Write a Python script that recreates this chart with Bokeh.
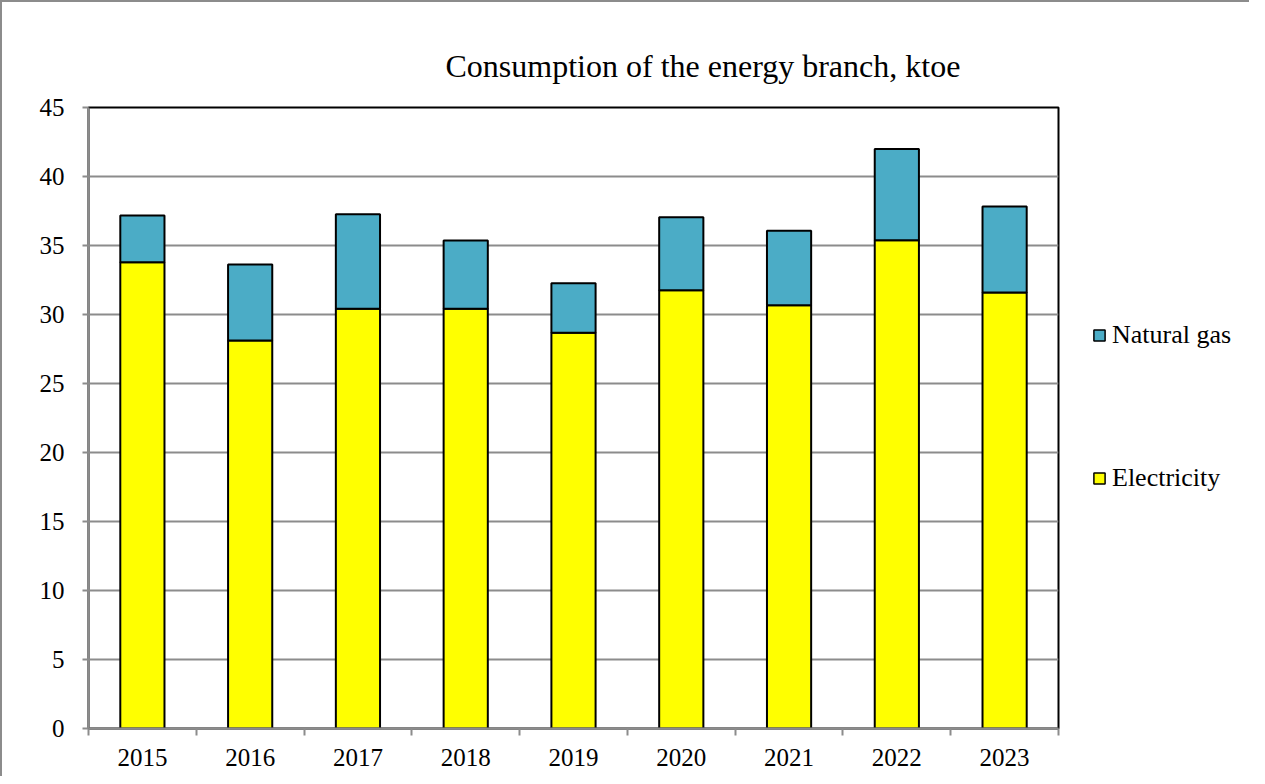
import numpy as np
from bokeh.plotting import figure
from bokeh.layouts import row
from bokeh.models import FixedTicker, Legend, LegendItem, Title, Range1d, ColumnDataSource
from bokeh.embed import file_html
from bokeh.resources import INLINE

years = ["2015", "2016", "2017", "2018", "2019", "2020", "2021", "2022", "2023"]
electricity = [33.79, 28.12, 30.41, 30.41, 28.67, 31.76, 30.67, 35.38, 31.59]
natural_gas = [3.38, 5.50, 6.85, 4.95, 3.60, 5.29, 5.39, 6.62, 6.23]
y_ticks = [0, 5, 10, 15, 20, 25, 30, 35, 40, 45]
series_names = ["Natural gas", "Electricity"]
series_colors = {"Natural gas": "#4bacc6", "Electricity": "#ffff00"}

xpos = [i + 0.5 for i in range(len(years))]
totals = [e + g for e, g in zip(electricity, natural_gas)]
src = ColumnDataSource(dict(x=xpos, elec=electricity, gas_top=totals))

FONT = "Liberation Serif"
H = 774

p = figure(width=1060, height=H, output_backend="svg", toolbar_location=None,
           x_range=Range1d(0, len(years)), y_range=Range1d(0, 45),
           min_border_left=86, min_border_right=4, min_border_top=105, min_border_bottom=48,
           tools="")

p.title = Title(text="Consumption of the energy branch,  ktoe", text_font=FONT,
                text_font_size="32px", text_font_style="normal", text_color="black",
                align="left", offset=357, standoff=48)

r_e = p.vbar(x="x", top="elec", bottom=0, width=0.41, source=src,
             fill_color=series_colors["Electricity"], line_color="black", line_width=2)
r_g = p.vbar(x="x", top="gas_top", bottom="elec", width=0.41, source=src,
             fill_color=series_colors["Natural gas"], line_color="black", line_width=2)

# axes
p.xaxis.ticker = FixedTicker(ticks=xpos, minor_ticks=list(range(len(years) + 1)))
p.xaxis.major_label_overrides = {x: y for x, y in zip(xpos, years)}
p.xaxis.major_tick_out = 0
p.xaxis.major_tick_in = 0
p.xaxis.minor_tick_out = 7
p.xaxis.minor_tick_in = 0
p.xaxis.minor_tick_line_color = "#8c8c8c"
p.xaxis.minor_tick_line_width = 2
p.xaxis.major_label_standoff = 13

p.yaxis.ticker = FixedTicker(ticks=y_ticks)
p.yaxis.major_tick_out = 6
p.yaxis.major_tick_in = 0
p.yaxis.minor_tick_out = 0
p.yaxis.minor_tick_in = 0
p.yaxis.major_tick_line_color = "#8c8c8c"
p.yaxis.major_tick_line_width = 2
p.yaxis.major_label_standoff = 18

for ax in (p.xaxis, p.yaxis):
    ax.axis_line_color = "#8c8c8c"
    ax.axis_line_width = 2
    ax.major_label_text_font = FONT
    ax.major_label_text_font_size = "25px"
    ax.major_label_text_color = "black"

p.xgrid.grid_line_color = None
p.ygrid.ticker = FixedTicker(ticks=y_ticks)
p.ygrid.grid_line_color = "#8c8c8c"
p.ygrid.grid_line_width = 2

p.outline_line_color = "black"
p.outline_line_width = 2
p.background_fill_color = "white"
p.border_fill_color = "white"

# legend panel (separate figure to the right of the plot area)
lf = figure(width=187, height=H, output_backend="svg", toolbar_location=None,
            x_axis_type=None, y_axis_type=None, tools="",
            min_border=0, x_range=Range1d(0, 1), y_range=Range1d(0, 1))
lf.grid.visible = False
lf.outline_line_color = None
lf.background_fill_color = "white"
lf.border_fill_color = "white"
dummy = {}
nan = np.array([np.nan])
for name in series_names:
    # proxy glyph with no drawable coordinates; only its legend swatch shows
    dummy[name] = lf.vbar(x=nan, bottom=nan, top=nan, width=0.1,
                          fill_color=series_colors[name], line_color="black", line_width=1.5)

legend = Legend(items=[LegendItem(label=n, renderers=[dummy[n]]) for n in series_names],
                location=(30, 235), orientation="vertical",
                glyph_width=14, glyph_height=14, label_height=28, spacing=113,
                padding=0, margin=0, label_standoff=6,
                label_text_font=FONT, label_text_font_size="26px", label_text_color="black",
                border_line_color=None, background_fill_alpha=0)
lf.add_layout(legend, "center")

layout = row(p, lf, spacing=0)
layout.styles = {"border-left": "2px solid #8c8c8c", "border-top": "2px solid #8c8c8c"}

open("out.html", "w").write(file_html(layout, INLINE))
